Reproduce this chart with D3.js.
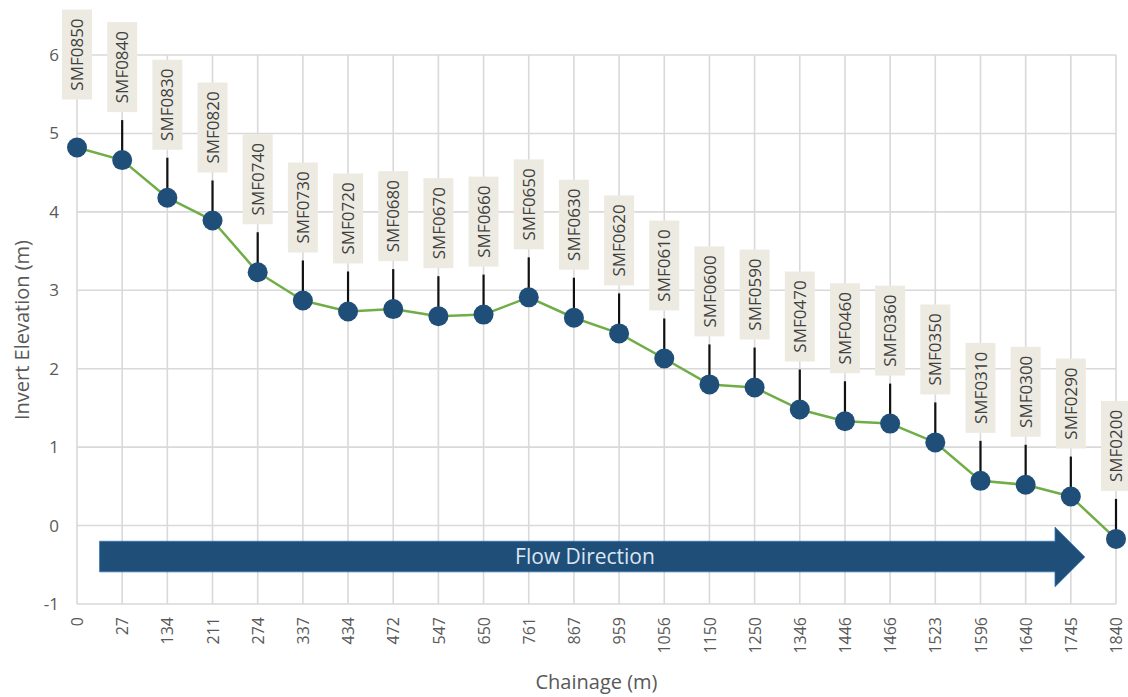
<!DOCTYPE html>
<html>
<head>
<meta charset="utf-8">
<script src="https://cdn.jsdelivr.net/npm/d3@7"></script>
<style>
  body { margin: 0; background: #fff; }
  text { font-family: "Open Sans", "Noto Sans", sans-serif; }
</style>
</head>
<body>
<svg width="1128" height="697"></svg>
<script>
// chainage categories (x), invert levels (y) and manhole ids
var chainage = ["0", "27", "134", "211", "274", "337", "434", "472", "547", "650", "761", "867",
                "959", "1056", "1150", "1250", "1346", "1446", "1466", "1523", "1596", "1640", "1745", "1840"];
var invert = [4.82, 4.66, 4.18, 3.89, 3.23, 2.87, 2.73, 2.76, 2.67, 2.69, 2.91, 2.65,
              2.45, 2.13, 1.80, 1.76, 1.48, 1.33, 1.30, 1.06, 0.57, 0.52, 0.37, -0.17];
var manholes = ["SMF0850", "SMF0840", "SMF0830", "SMF0820", "SMF0740", "SMF0730", "SMF0720", "SMF0680",
                "SMF0670", "SMF0660", "SMF0650", "SMF0630", "SMF0620", "SMF0610", "SMF0600", "SMF0590",
                "SMF0470", "SMF0460", "SMF0360", "SMF0350", "SMF0310", "SMF0300", "SMF0290", "SMF0200"];
var yTicks = [-1, 0, 1, 2, 3, 4, 5, 6];

var data = chainage.map(function(c, i) { return {c: c, v: invert[i], id: manholes[i]}; });

var svg = d3.select("svg"),
    margin = {top: 55, right: 12, bottom: 93, left: 77},
    width = +svg.attr("width") - margin.left - margin.right,
    height = +svg.attr("height") - margin.top - margin.bottom;

var x = d3.scalePoint().domain(chainage).range([margin.left, margin.left + width]);
var y = d3.scaleLinear().domain([-1, 6]).range([margin.top + height, margin.top]);
var step = x.step();

var grey = "#595959", gridCol = "#d9d9d9";

// horizontal grid
svg.append("g").selectAll("line").data(yTicks).enter().append("line")
    .attr("x1", margin.left).attr("x2", margin.left + width)
    .attr("y1", function(d) { return y(d); }).attr("y2", function(d) { return y(d); })
    .attr("stroke", gridCol).attr("stroke-width", 1.6);

// vertical grid
svg.append("g").selectAll("line").data(chainage).enter().append("line")
    .attr("x1", function(d) { return x(d); }).attr("x2", function(d) { return x(d); })
    .attr("y1", y(6)).attr("y2", y(-1))
    .attr("stroke", gridCol).attr("stroke-width", 1.6);

// y axis
var yAxis = svg.append("g")
    .attr("transform", "translate(" + margin.left + ",0)")
    .call(d3.axisLeft(y).tickValues(yTicks).tickSize(0).tickPadding(18)
      .tickFormat(function(d) { return String(d); }));
yAxis.select(".domain").remove();
yAxis.selectAll("text").attr("fill", grey).style("font-size", "17px")
    .style("font-family", "'Open Sans', sans-serif");

// x axis, rotated labels
var xAxis = svg.append("g")
    .attr("transform", "translate(0," + y(-1) + ")")
    .call(d3.axisBottom(x).tickSize(0));
xAxis.select(".domain").remove();
xAxis.selectAll("text")
    .attr("fill", grey).style("font-size", "16px")
    .style("font-family", "'Open Sans', sans-serif")
    .attr("transform", "rotate(-90)")
    .attr("x", -13).attr("y", 0).attr("dy", "0.35em")
    .attr("text-anchor", "end");

// axis titles
svg.append("text")
    .attr("x", margin.left + width / 2).attr("y", 689)
    .attr("text-anchor", "middle").attr("fill", grey)
    .style("font-size", "20px").text("Chainage (m)");

svg.append("text")
    .attr("transform", "translate(29," + 330 + ") rotate(-90)")
    .attr("text-anchor", "middle").attr("fill", grey)
    .style("font-size", "20px").text("Invert Elevation (m)");

// flow direction arrow
var ax0 = x(chainage[0]) + step * 0.5,
    axBase = x("1745") - step * 0.35,
    axTip = x("1745") + step * 0.31;
var arrow = [[ax0, y(-0.2)], [axBase, y(-0.2)], [axBase, y(-0.02)], [axTip, y(-0.4)],
             [axBase, y(-0.78)], [axBase, y(-0.59)], [ax0, y(-0.59)]];
svg.append("path")
    .attr("d", d3.line()(arrow) + "Z")
    .attr("fill", "#1f4e79").attr("stroke", "#2e75b6").attr("stroke-width", 0.8);
svg.append("text")
    .attr("x", 585).attr("y", y(-0.4)).attr("dy", "0.35em")
    .attr("text-anchor", "middle").attr("fill", "#dce6f2")
    .style("font-size", "21px").text("Flow Direction");

// profile line
var line = d3.line()
    .x(function(d) { return x(d.c); })
    .y(function(d) { return y(d.v); });

svg.append("path")
    .datum(data)
    .attr("fill", "none")
    .attr("stroke", "#70ad47")
    .attr("stroke-width", 2.5)
    .attr("stroke-linejoin", "round")
    .attr("d", line);

// leader lines (first label sits close enough to need none)
svg.append("g").selectAll("line").data(data.slice(1)).enter().append("line")
    .attr("x1", function(d) { return x(d.c); }).attr("x2", function(d) { return x(d.c); })
    .attr("y1", function(d) { return y(d.v) - 40; }).attr("y2", function(d) { return y(d.v); })
    .attr("stroke", "#111").attr("stroke-width", 2.2);

// markers
svg.append("g").selectAll("circle").data(data).enter().append("circle")
    .attr("cx", function(d) { return x(d.c); })
    .attr("cy", function(d) { return y(d.v); })
    .attr("r", 10)
    .attr("fill", "#1f4e79");

// data labels
var lab = svg.append("g").selectAll("g").data(data).enter().append("g")
    .attr("transform", function(d) { return "translate(" + x(d.c) + "," + (y(d.v) - 48 - 45) + ")"; });
lab.append("rect")
    .attr("x", -15).attr("y", -45).attr("width", 30).attr("height", 90)
    .attr("fill", "#edebe1");
lab.append("text")
    .attr("transform", "rotate(-90)")
    .attr("text-anchor", "middle").attr("dy", "0.36em")
    .attr("fill", "#404040")
    .style("font-size", "17px")
    .text(function(d) { return d.id; });
</script>
</body>
</html>
